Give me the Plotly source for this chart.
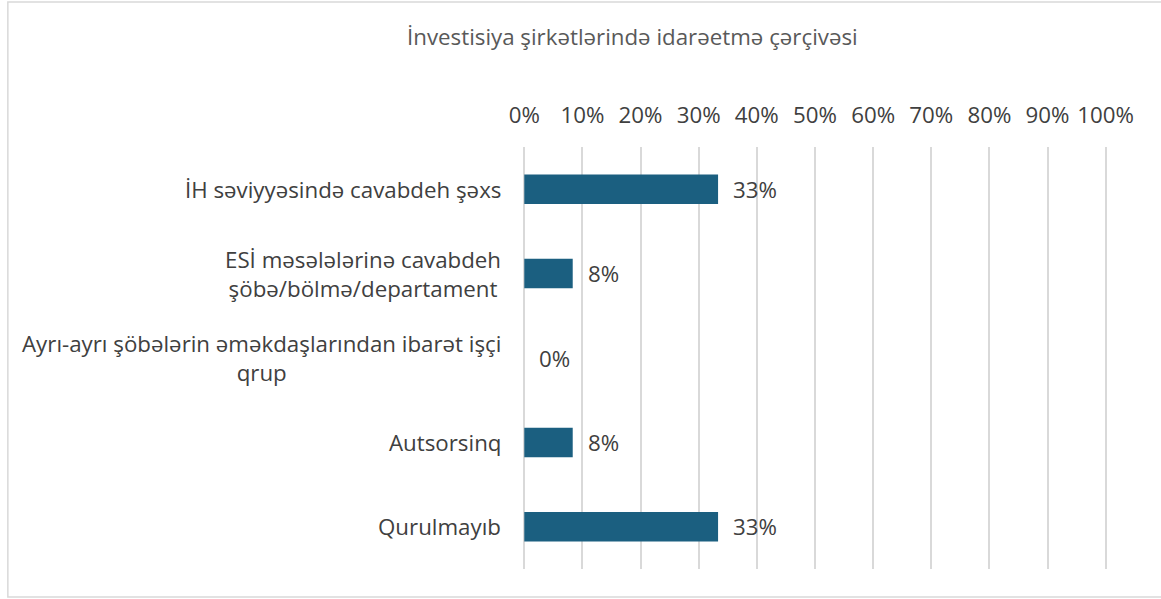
import plotly.graph_objects as go

categories = ["İH səviyyəsində cavabdeh şəxs",
              "ESİ məsələlərinə cavabdeh<br>şöbə/bölmə/departament",
              "Ayrı-ayrı şöbələrin əməkdaşlarından ibarət işçi<br>qrup",
              "Autsorsinq",
              "Qurulmayıb"]
values = [33.33, 8.33, 0, 8.33, 33.33]
labels = ["33%", "8%", "0%", "8%", "33%"]
tick_vals = [0, 10, 20, 30, 40, 50, 60, 70, 80, 90, 100]
tick_text = ["0%", "10%", "20%", "30%", "40%", "50%", "60%", "70%", "80%", "90%", "100%"]
title = "İnvestisiya şirkətlərində idarəetmə çərçivəsi"

FONT = "Open Sans"
FS = 22.3
TXT = "#404040"
GRID = "#d9d9d9"
W, H = 1161, 599
X0PX, X100PX = 524, 1106
RMIN, RMAX = -0.05, 100.4
UNIT = (X100PX - X0PX) / 100.0
L = X0PX + RMIN * UNIT
R = W - (X100PX + (RMAX - 100) * UNIT)
T, B = 147, 30

fig = go.Figure()
fig.add_trace(go.Bar(y=categories, x=values, orientation="h",
                     marker=dict(color="#1b5f80", line=dict(width=0)),
                     hoverinfo="skip"))

pw = W - L - R
ph = H - T - B
def px2x(px):
    return (px - L) / pw
def px2y(py):
    return (H - B - py) / ph

annotations = []
for c, v, t in zip(categories, values, labels):
    annotations.append(dict(x=v, y=c, xref="x", yref="y", text=t, showarrow=False,
                            xanchor="left", xshift=13,
                            font=dict(family=FONT, size=FS, color=TXT)))
    annotations.append(dict(x=px2x(503), y=c, xref="paper", yref="y", text=c, showarrow=False,
                            xanchor="right", align="center",
                            font=dict(family=FONT, size=FS, color=TXT)))
annotations.append(dict(x=px2x(632), y=px2y(36), xref="paper", yref="paper", text=title,
                        showarrow=False, xanchor="center", yanchor="middle",
                        font=dict(family=FONT, size=FS, color="#595959")))

fig.update_layout(
    width=W, height=H,
    margin=dict(l=L, r=R, t=T, b=B, pad=0),
    paper_bgcolor="white", plot_bgcolor="white",
    showlegend=False,
    bargap=0.65,
    annotations=annotations,
    shapes=[dict(type="rect", xref="paper", yref="paper",
                 x0=px2x(7), x1=px2x(1170), y0=px2y(597), y1=px2y(2),
                 line=dict(color=GRID, width=1.5), layer="below")],
    xaxis=dict(side="top", range=[RMIN, RMAX], tickvals=tick_vals, ticktext=tick_text,
               showgrid=True, gridcolor=GRID, gridwidth=1.5,
               zeroline=True, zerolinecolor=GRID, zerolinewidth=1.5,
               showline=False, ticks="",
               ticklabelstandoff=19,
               tickfont=dict(family=FONT, size=FS, color=TXT), fixedrange=True),
    yaxis=dict(autorange="reversed", showticklabels=False, showgrid=False,
               zeroline=False, showline=False, ticks="", fixedrange=True),
)
fig.write_html("out.html", config={"displayModeBar": False},
               post_script="document.body.style.margin='0';document.body.style.overflow='hidden';")
